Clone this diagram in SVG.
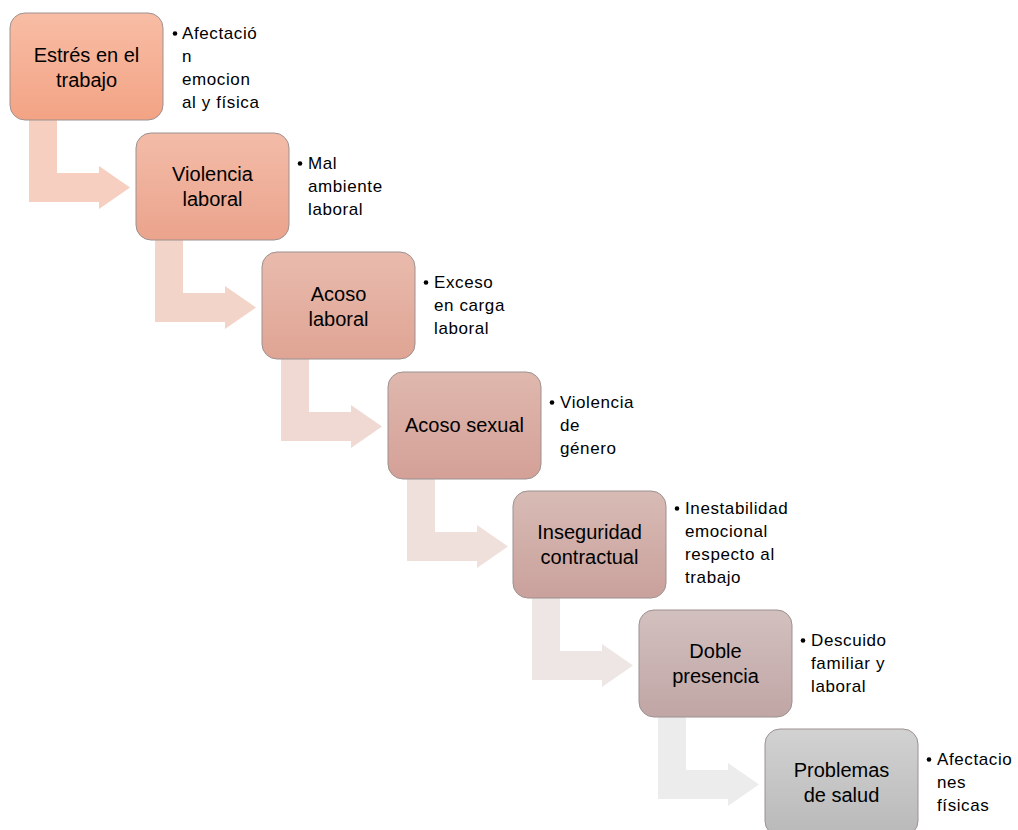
<svg xmlns="http://www.w3.org/2000/svg" width="1018" height="830" viewBox="0 0 1018 830">
<defs>
<linearGradient id="g1" x1="0" y1="0" x2="0" y2="1"><stop offset="0" stop-color="#f8bda5"/><stop offset="1" stop-color="#f3a384"/></linearGradient>
<linearGradient id="g2" x1="0" y1="0" x2="0" y2="1"><stop offset="0" stop-color="#f3bca8"/><stop offset="1" stop-color="#eba38c"/></linearGradient>
<linearGradient id="g3" x1="0" y1="0" x2="0" y2="1"><stop offset="0" stop-color="#e9bbad"/><stop offset="1" stop-color="#dfa494"/></linearGradient>
<linearGradient id="g4" x1="0" y1="0" x2="0" y2="1"><stop offset="0" stop-color="#dfb8ae"/><stop offset="1" stop-color="#d4a097"/></linearGradient>
<linearGradient id="g5" x1="0" y1="0" x2="0" y2="1"><stop offset="0" stop-color="#d8bbb5"/><stop offset="1" stop-color="#caa19c"/></linearGradient>
<linearGradient id="g6" x1="0" y1="0" x2="0" y2="1"><stop offset="0" stop-color="#d2c0bf"/><stop offset="1" stop-color="#c0a6a5"/></linearGradient>
<linearGradient id="g7" x1="0" y1="0" x2="0" y2="1"><stop offset="0" stop-color="#d2d2d2"/><stop offset="1" stop-color="#b9b9b9"/></linearGradient>
</defs>
<style>
.box{stroke:#9c9190;stroke-width:1}
.bt{font-family:"Liberation Sans",Arial,sans-serif;font-size:20px;fill:#000;text-anchor:middle}
.st{font-family:"Liberation Sans",Arial,sans-serif;font-size:17px;fill:#000;letter-spacing:0.6px}
.bul{fill:#000}
</style>
<g id="connectors">
<path d="M29 110 H57 V173 H99 V166 L130 187.5 L99 209 V202 H29 Z" fill="#f6cfc0"/>
<path d="M155 230 H183 V293 H225 V286 L256 307.5 L225 329 V322 H155 Z" fill="#f3d4c9"/>
<path d="M281 349 H309 V412 H351 V405 L382 426.5 L351 448 V441 H281 Z" fill="#efd9d2"/>
<path d="M407 469 H435 V532 H477 V525 L508 546.5 L477 568 V561 H407 Z" fill="#efe0dc"/>
<path d="M532 588 H560 V651 H602 V644 L633 665.5 L602 687 V680 H532 Z" fill="#eee6e5"/>
<path d="M658 707 H686 V770 H728 V763 L759 784.5 L728 806 V799 H658 Z" fill="#ececec"/>
</g>
<g id="node1">
<rect class="box" x="10" y="13" width="153" height="107" rx="15" fill="url(#g1)"/>
<text class="bt" x="86.5" y="62">Estrés en el</text>
<text class="bt" x="86.5" y="87">trabajo</text>
<circle class="bul" cx="175" cy="33.5" r="2.3"/>
<text class="st" x="182" y="39"><tspan x="182">Afectació</tspan><tspan x="182" dy="23">n</tspan><tspan x="182" dy="23">emocion</tspan><tspan x="182" dy="23">al y física</tspan></text>
</g>
<g id="node2">
<rect class="box" x="136" y="133" width="153" height="107" rx="15" fill="url(#g2)"/>
<text class="bt" x="212.5" y="181">Violencia</text>
<text class="bt" x="212.5" y="206">laboral</text>
<circle class="bul" cx="300" cy="163.5" r="2.3"/>
<text class="st" x="308" y="169"><tspan x="308">Mal</tspan><tspan x="308" dy="23">ambiente</tspan><tspan x="308" dy="23">laboral</tspan></text>
</g>
<g id="node3">
<rect class="box" x="262" y="252" width="153" height="107" rx="15" fill="url(#g3)"/>
<text class="bt" x="338.5" y="301">Acoso</text>
<text class="bt" x="338.5" y="326">laboral</text>
<circle class="bul" cx="426" cy="282.5" r="2.3"/>
<text class="st" x="434" y="288"><tspan x="434">Exceso</tspan><tspan x="434" dy="23">en carga</tspan><tspan x="434" dy="23">laboral</tspan></text>
</g>
<g id="node4">
<rect class="box" x="388" y="372" width="153" height="107" rx="15" fill="url(#g4)"/>
<text class="bt" x="464.5" y="432">Acoso sexual</text>
<circle class="bul" cx="552" cy="402.5" r="2.3"/>
<text class="st" x="560" y="408"><tspan x="560">Violencia</tspan><tspan x="560" dy="23">de</tspan><tspan x="560" dy="23">género</tspan></text>
</g>
<g id="node5">
<rect class="box" x="513" y="491" width="153" height="107" rx="15" fill="url(#g5)"/>
<text class="bt" x="589.5" y="539">Inseguridad</text>
<text class="bt" x="589.5" y="564">contractual</text>
<circle class="bul" cx="677" cy="508.5" r="2.3"/>
<text class="st" x="685" y="514"><tspan x="685">Inestabilidad</tspan><tspan x="685" dy="23">emocional</tspan><tspan x="685" dy="23">respecto al</tspan><tspan x="685" dy="23">trabajo</tspan></text>
</g>
<g id="node6">
<rect class="box" x="639" y="610" width="153" height="107" rx="15" fill="url(#g6)"/>
<text class="bt" x="715.5" y="658">Doble</text>
<text class="bt" x="715.5" y="683">presencia</text>
<circle class="bul" cx="803" cy="640.5" r="2.3"/>
<text class="st" x="811" y="646"><tspan x="811">Descuido</tspan><tspan x="811" dy="23">familiar y</tspan><tspan x="811" dy="23">laboral</tspan></text>
</g>
<g id="node7">
<rect class="box" x="765" y="729" width="153" height="107" rx="15" fill="url(#g7)"/>
<text class="bt" x="841.5" y="777">Problemas</text>
<text class="bt" x="841.5" y="802">de salud</text>
<circle class="bul" cx="929" cy="759.5" r="2.3"/>
<text class="st" x="937" y="765"><tspan x="937">Afectacio</tspan><tspan x="937" dy="23">nes</tspan><tspan x="937" dy="23">físicas</tspan></text>
</g>
</svg>
